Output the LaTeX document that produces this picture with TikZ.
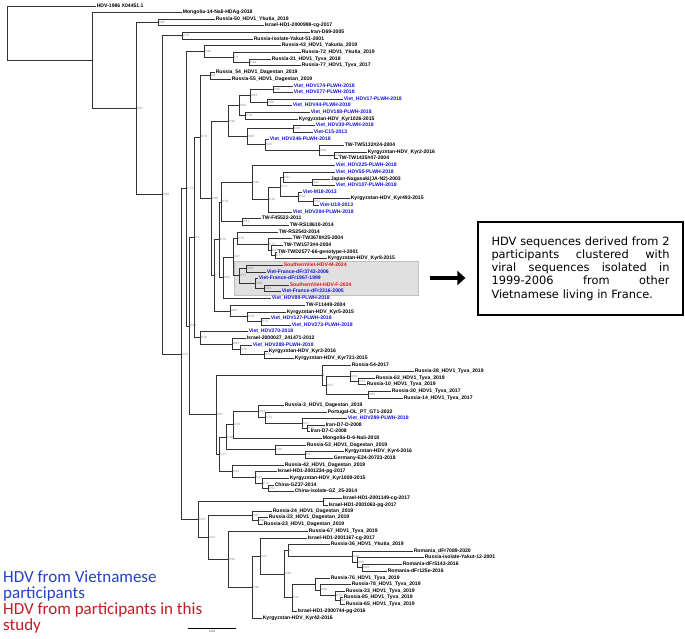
\documentclass[tikz,border=0pt]{standalone}
\usepackage{fontspec}
\setmainfont{Liberation Sans}
\newfontfamily\dejavu{DejaVu Sans}
\newfontfamily\carlito{Carlito}
\usetikzlibrary{calc,arrows.meta}
\definecolor{lfk}{RGB}{0,0,0}
\definecolor{lfblue}{RGB}{20,20,220}
\definecolor{lfred}{RGB}{225,20,20}
\definecolor{lgblue}{RGB}{35,65,205}
\definecolor{lgred}{RGB}{195,30,35}
\tikzset{
  leaf/.style={anchor=west, inner xsep=0.6pt, inner ysep=0pt, text height=3.7pt, text depth=0.9pt, font=\fontsize{5.1}{6}\selectfont\bfseries},
  br/.style={draw=black!80, line width=0.6pt},
  bs/.style={anchor=west, xshift=0.9pt, inner sep=0pt, text=black!50, font=\fontsize{3.1}{3.5}\selectfont},
  gbox/.style={draw=black!25, fill=black!12, minimum width=184pt, minimum height=34pt, inner sep=0pt},
  tbox/.style={draw=black, line width=1.2pt, minimum width=205pt, minimum height=93pt, text width=178pt, align=left, font=\dejavu\fontsize{11.4}{13.3}\selectfont},
  bigarrow/.style={line width=4pt, -{Triangle[length=8pt 0 1,width=14pt 0 1]}},
  legend/.style={anchor=base west, inner sep=0pt, font=\carlito\fontsize{17}{16}\selectfont},
}
\newcommand\lf[4][lfk]{\node[leaf,text=#1] (#2) at #3 {#4};}
\newcommand\nd[5][]{%
  \path let \p1=(#4), \p2=(#5) in (#3pt,{0.5*\y1+0.5*\y2}) coordinate (#2);
  \draw[br] (#2) |- (#4);
  \draw[br] (#2) |- (#5);
  \if\relax\detokenize{#1}\relax\else\node[bs] (#2-bs) at (#2) {#1};\fi
}
\newcommand\jline[1]{\leavevmode\hbox to 178pt{#1}}
\begin{document}
\begin{tikzpicture}[x=1pt,y=-1pt]
\fill[white] (0,0) rectangle (685,639);
\useasboundingbox (0,0) rectangle (685,639);
% highlighted cluster
\node[gbox] (gb) at (326,278) {};
% leaves
\lf{l1}{(96,6)}{HDV-1986 X04451.1}
\lf{l2}{(182,12)}{Mongolia-14-Nali-HDAg-2018}
\lf{l3}{(215,19)}{Russia-50\_HDV1\_Ykutia\_2019}
\lf{l4}{(264,25)}{Israel-HD1-2000999-cg-2017}
\lf{l5}{(310,32)}{Iran-D69-2005}
\lf{l6}{(253,39)}{Russia-isolate-Yakut-51-2001}
\lf{l7}{(281,45)}{Russia-43\_HDV1\_Yakutia\_2019}
\lf{l8}{(301,52)}{Russia-72\_HDV1\_Ykutia\_2019}
\lf{l9}{(271,59)}{Russia-31\_HDV1\_Tyva\_2018}
\lf{l10}{(301,65)}{Russia-77\_HDV1\_Tyva\_2017}
\lf{l11}{(215,72)}{Russia\_54\_HDV1\_Dagestan\_2019}
\lf{l12}{(231,79)}{Russia-55\_HDV1\_Dagestan\_2019}
\lf[lfblue]{l13}{(293,86)}{Viet\_HDV174-PLWH-2018}
\lf[lfblue]{l14}{(293,92)}{Viet\_HDV277-PLWH-2018}
\lf[lfblue]{l15}{(343,99)}{Viet\_HDV17-PLWH-2018}
\lf[lfblue]{l16}{(292,105)}{Viet\_HDV44-PLWH-2018}
\lf[lfblue]{l17}{(310,112)}{Viet\_HDV188-PLWH-2018}
\lf{l18}{(298,119)}{Kyrgyzstan-HDV\_Kyr1026-2015}
\lf[lfblue]{l19}{(315,125)}{Viet\_HDV30-PLWH-2018}
\lf[lfblue]{l20}{(313,132)}{Viet-C15-2013}
\lf[lfblue]{l21}{(269,139)}{Viet\_HDV246-PLWH-2018}
\lf{l22}{(344,145)}{TW-TW5132\#24-2004}
\lf{l23}{(367,152)}{Kyrgyzstan-HDV\_Kyr2-2016}
\lf{l24}{(338,158)}{TW-TW1435\#47-2004}
\lf[lfblue]{l25}{(335,165)}{Viet\_HDV225-PLWH-2018}
\lf[lfblue]{l26}{(335,172)}{Viet\_HDV55-PLWH-2018}
\lf{l27}{(330,179)}{Japan-Nagasaki(JA-N2)-2003}
\lf[lfblue]{l28}{(335,185)}{Viet\_HDV107-PLWH-2018}
\lf[lfblue]{l29}{(302,192)}{Viet-M18-2013}
\lf{l30}{(350,198)}{Kyrgyzstan-HDV\_Kyr493-2015}
\lf[lfblue]{l31}{(319,205)}{Viet-U18-2013}
\lf[lfblue]{l32}{(292,212)}{Viet\_HDV284-PLWH-2018}
\lf{l33}{(261,218)}{TW-F45522-2011}
\lf{l34}{(289,225)}{TW-RS18610-2014}
\lf{l35}{(278,232)}{TW-RS2543-2014}
\lf{l36}{(292,238)}{TW-TW3678\#25-2004}
\lf{l37}{(283,245)}{TW-TW1573\#4-2004}
\lf{l38}{(277,252)}{TW-TWD2577-66-genotype-I-2001}
\lf{l39}{(327,258)}{Kyrgyzstan-HDV\_Kyr8-2015}
\lf[lfred]{l40}{(283,265)}{SouthernViet-HDV-M-2024}
\lf[lfblue]{l41}{(266,272)}{Viet-France-dFr3743-2006}
\lf[lfblue]{l42}{(258,278)}{Viet-France-dFr1967-1999}
\lf[lfred]{l43}{(289,285)}{SouthernViet-HDV-F-2024}
\lf[lfblue]{l44}{(281,291)}{Viet-France-dFr2316-2005}
\lf[lfblue]{l45}{(271,298)}{Viet\_HDV89-PLWH-2018}
\lf{l46}{(305,305)}{TW-F11449-2004}
\lf{l47}{(286,312)}{Kyrgyzstan-HDV\_Kyr5-2015}
\lf[lfblue]{l48}{(270,318)}{Viet\_HDV127-PLWH-2018}
\lf[lfblue]{l49}{(291,325)}{Viet\_HDV273-PLWH-2018}
\lf[lfblue]{l50}{(248,331)}{Viet\_HDV270-2018}
\lf{l51}{(246,338)}{Israel-2000027\_241471-2012}
\lf[lfblue]{l52}{(252,345)}{Viet\_HDV288-PLWH-2018}
\lf{l53}{(268,351)}{Kyrgyzstan-HDV\_Kyr3-2016}
\lf{l54}{(294,358)}{Kyrgyzstan-HDV\_Kyr731-2015}
\lf{l55}{(351,365)}{Russia-54-2017}
\lf{l56}{(414,371)}{Russia-38\_HDV1\_Tyva\_2019}
\lf{l57}{(375,378)}{Russia-62\_HDV1\_Tyva\_2019}
\lf{l58}{(366,384)}{Russia-10\_HDV1\_Tyva\_2019}
\lf{l59}{(391,391)}{Russia-30\_HDV1\_Tyva\_2017}
\lf{l60}{(403,398)}{Russia-14\_HDV1\_Tyva\_2017}
\lf{l61}{(284,405)}{Russia-3\_HDV1\_Dagestan\_2019}
\lf{l62}{(327,412)}{Portugal-OL\_PT\_GT1-2022}
\lf[lfblue]{l63}{(347,418)}{Viet\_HDV289-PLWH-2018}
\lf{l64}{(325,425)}{Iran-D7-D-2008}
\lf{l65}{(310,431)}{Iran-D7-C-2008}
\lf{l66}{(322,438)}{Mongolia-D-6-Nali-2018}
\lf{l67}{(306,445)}{Russia-53\_HDV1\_Dagestan\_2019}
\lf{l68}{(344,451)}{Kyrgyzstan-HDV\_Kyr4-2016}
\lf{l69}{(333,458)}{Germany-E24-20723-2018}
\lf{l70}{(284,465)}{Russia-42\_HDV1\_Dagestan\_2019}
\lf{l71}{(277,471)}{Israel-HD1-2001234-pg-2017}
\lf{l72}{(289,478)}{Kyrgyzstan-HDV\_Kyr1009-2015}
\lf{l73}{(274,485)}{China-GZ37-2014}
\lf{l74}{(294,491)}{China-isolate-GZ\_25-2014}
\lf{l75}{(342,498)}{Israel-HD1-2001149-cg-2017}
\lf{l76}{(328,505)}{Israel-HD1-2001063-pg-2017}
\lf{l77}{(272,511)}{Russia-24\_HDV1\_Dagestan\_2019}
\lf{l78}{(268,517)}{Russia-22\_HDV1\_Dagestan\_2019}
\lf{l79}{(263,524)}{Russia-23\_HDV1\_Dagestan\_2019}
\lf{l80}{(308,531)}{Russia-67\_HDV1\_Tyva\_2019}
\lf{l81}{(307,538)}{Israel-HD1-2001167-cg-2017}
\lf{l82}{(330,544)}{Russia-36\_HDV1\_Ykutia\_2019}
\lf{l83}{(413,551)}{Romania\_dFr7089-2020}
\lf{l84}{(424,557)}{Russia-isolate-Yakut-12-2001}
\lf{l85}{(402,564)}{Romania-dFr5143-2016}
\lf{l86}{(387,571)}{Romania-dFr125e-2016}
\lf{l87}{(330,578)}{Russia-76\_HDV1\_Tyva\_2019}
\lf{l88}{(351,584)}{Russia-78\_HDV1\_Tyva\_2019}
\lf{l89}{(345,591)}{Russia-33\_HDV1\_Tyva\_2019}
\lf{l90}{(343,597)}{Russia-85\_HDV1\_Tyva\_2019}
\lf{l91}{(345,604)}{Russia-65\_HDV1\_Tyva\_2019}
\lf{l92}{(297,611)}{Israel-HD1-2000744-pg-2016}
\lf{l93}{(262,618)}{Kyrgyzstan-HDV\_Kyr42-2016}
% internal nodes (bottom-up)
\nd[0.79]{nA}{182}{l5}{l6}
\nd[0.85]{n158}{158}{l3}{l4}
\nd[0.44]{c44}{249}{l9}{l10}
\nd[0.9]{c9}{233}{l8}{c44}
\nd[0.64]{c64}{204}{l7}{c9}
\nd[0.9]{d54}{210}{l11}{l12}
\nd[0.95]{n273}{273}{l13}{l14}
\nd[0.98]{n266}{267}{l15}{l16}
\nd[0.83]{n250}{250}{n273}{n266}
\nd[0.74]{n255}{245}{l17}{l18}
\nd[0.90]{n231}{239}{n250}{n255}
\nd[0.99]{n295}{293}{l19}{l20}
\nd[0.93]{n335}{334}{l23}{l24}
\nd[0.99]{n320}{319}{l22}{n335}
\nd[0.83]{n268}{265}{l21}{n320}
\nd[0.89]{n262}{247}{n295}{n268}
\nd[0.92]{n228}{228}{n231}{n262}
\nd[0.91]{c91}{312}{l27}{l28}
\nd[0.81]{c81}{283}{l26}{c91}
\nd[0.52]{c52}{313}{l30}{l31}
\nd[0.92]{c92}{298}{l29}{c52}
\nd[0.71]{c71}{280}{c81}{c92}
\nd[0.70]{c70}{268}{c71}{l32}
\nd[0.95]{c95}{252}{l25}{c70}
\nd[0.81]{t81}{242}{l33}{l34}
\nd[0.76]{n220}{221}{c95}{t81}
\nd[0.77]{w3}{275}{l38}{l39}
\nd[0.87]{w2}{271}{l37}{w3}
\nd[0.77]{w1}{268}{l36}{w2}
\nd[0.75]{w0}{237}{l35}{w1}
\nd[0.59]{b59}{246}{l40}{l41}
\nd[0.81]{b81}{264}{l43}{l44}
\nd[0.90]{b90}{255}{l42}{b81}
\nd[0.77]{b77}{239}{b59}{b90}
\nd[0.47]{g47}{233}{w0}{b77}
\nd[0.83]{gx}{223}{g47}{l45}
\nd[0.79]{n79}{219}{n220}{gx}
\nd[0.71]{f71}{261}{l48}{l49}
\nd[0.79]{f79}{247}{l47}{f71}
\nd[0.89]{f89}{230}{l46}{f79}
\nd[1]{gtop}{214}{n79}{f89}
\nd[0.98]{n212}{211}{n228}{gtop}
\nd[0.79]{n200}{200}{d54}{n212}
\nd[0.76]{k1}{264}{l53}{l54}
\nd[0.76]{k2}{240}{l52}{k1}
\nd[0.80]{k4}{232}{l51}{k2}
\nd[0.76]{k3}{200}{l50}{k4}
\nd[0.3]{n195}{194}{n200}{k3}
\nd[0.53]{r4}{358}{l57}{l58}
\nd[0.69]{r3}{350}{l56}{r4}
\nd[0.95]{r5}{368}{l59}{l60}
\nd[0.55]{r55}{326}{r3}{r5}
\nd[1]{r1}{322}{l55}{r55}
\nd[0.75]{u1}{307}{l64}{l65}
\nd[0.67]{u2}{302}{l63}{u1}
\nd[0.75]{u3}{265}{l62}{u2}
\nd[0.83]{u4}{258}{l61}{u3}
\nd[0.76]{u5}{233}{u4}{l66}
\nd[0.8]{u7}{305}{l68}{l69}
\nd[0.66]{u6}{275}{l67}{u7}
\nd[0.36]{u8}{226}{u5}{u6}
\nd[0.97]{h97}{268}{l73}{l74}
\nd[0.74]{h74}{262}{l72}{h97}
\nd[0.84]{h84}{255}{l71}{h74}
\nd[0.93]{h93}{232}{l70}{h84}
\nd[0.75]{l75n}{219}{u8}{h93}
\nd[0.87]{g87}{216}{r1}{l75n}
\nd[0.66]{n190}{189}{n195}{g87}
\nd[0.71]{n187}{186}{c64}{n190}
\nd[1]{ip}{323}{l75}{l76}
\nd[0.96]{d2}{258}{l78}{l79}
\nd[0.87]{d1}{252}{l77}{d2}
\nd[0.69]{rr3}{362}{l85}{l86}
\nd[0.65]{rr2}{357}{l84}{rr3}
\nd[0.99]{rom}{352}{l83}{rr2}
\nd[1]{m1}{288}{l82}{rom}
\nd[0.87]{t4}{340}{l90}{l91}
\nd[0.78]{t3}{335}{l89}{t4}
\nd[0.69]{t2}{320}{l88}{t3}
\nd{t1}{315}{l87}{t2}
\nd[0.91]{tt}{292}{t1}{l92}
\nd[0.93]{q5}{284}{m1}{tt}
\nd[0.67]{q4}{260}{l81}{q5}
\nd[0.93]{q3}{252}{q4}{l93}
\nd[0.93]{q2}{228}{l80}{q3}
\nd[0.42]{q1}{208}{d1}{q2}
\nd[0.53]{b53}{198}{ip}{q1}
\nd[0.53]{n182}{181}{n187}{b53}
\nd[0.88]{n162}{162}{nA}{n182}
\nd[0.87]{n136}{136}{n158}{n162}
\nd{n92}{92}{l2}{n136}
\nd{root}{7}{l1}{n92}
% annotation box and arrow
\node[tbox] (tb) at (580.5,268.5) {\jline{HDV\hfill sequences\hfill derived\hfill from\hfill 2}\\\jline{participants\hfill clustered\hfill with}\\\jline{viral\hfill sequences\hfill isolated\hfill in}\\\jline{1999-2006\hfill from\hfill other}\\Vietnamese living in France.};
\coordinate (ae) at (tb.west |- gb.east);
\draw[bigarrow] ([xshift=12pt]gb.east) -- ([xshift=-12pt]ae);
% legend
\node[legend,text=lgblue] (lg1) at (3,582) {HDV from Vietnamese};
\node[legend,text=lgblue] (lg2) at (3,598) {participants};
\node[legend,text=lgred] (lg3) at (3,614) {HDV from participants in this};
\node[legend,text=lgred] (lg4) at (3,630) {study};
% scale bar
\coordinate (sb1) at (188,628);
\coordinate (sb2) at (236,628);
\draw[black, line width=0.7pt] (sb1) -- (sb2);
\node[inner sep=0pt, anchor=north, text=black!70, font=\fontsize{3.2}{4}\selectfont] (sbl) at ($(sb1)!0.5!(sb2)+(0,2.5)$) {0.02};
\end{tikzpicture}
\end{document}
